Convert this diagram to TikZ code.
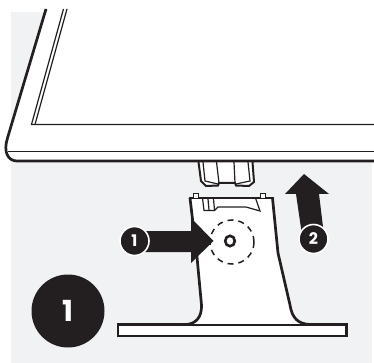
\documentclass[tikz,border=0pt]{standalone}
\usepackage{fontspec}
\newfontfamily\badgefont{Poppins}
\definecolor{inkblack}{HTML}{231F20}
\definecolor{panelgrey}{HTML}{F1F2F4}
\tikzset{
	outline/.style={draw=inkblack,line width=2.7pt,line join=miter},
	thin outline/.style={draw=inkblack,line width=1.2pt},
	badge/.style={circle,fill=inkblack,draw=white,line width=1.6pt,text=white,minimum size=29pt,inner sep=0pt,font=\badgefont\bfseries\fontsize{16}{16}\selectfont},
	push arrow/.style={fill=inkblack}
}
\begin{document}
\begin{tikzpicture}[x=1pt,y=-1pt]
	\useasboundingbox (0,0) rectangle (374,363);
	\fill[panelgrey] (11,12) rectangle (372,363);

	% monitor
	\fill[white] (46,9) -- (7.5,138) .. controls (3,152) and (8,161) .. (17,161) -- (374,161) -- (374,0) -- (46,0) -- cycle;
	\draw[outline] (46,9) -- (7.5,138) .. controls (3,152) and (8,161) .. (17,161) -- (374,161);
	\draw[thin outline] (63.5,9) -- (31.5,124.5) -- (374,124.5);
	\draw[thin outline] (67,9) -- (35,124.5);
	\draw[draw=inkblack,line width=1pt] (8,152) -- (374,152);

	% hinge under the monitor
	\fill[white] (198.5,163) -- (201,181) -- (206,186) -- (219,184) -- (219,183) -- (235,183) -- (240,187) -- (251,186) -- (254,182) -- (252.5,163) -- cycle;
	\draw[outline,line width=2pt] (198.5,162) -- (201,181) -- (206,186) -- (218,185.5) -- (219,183) -- (235,183) -- (236,185.5) -- (249,186) -- (254,182) -- (252.5,162);
	\draw[thin outline] (203,162) -- (205,181) -- (218,184);
	\draw[thin outline] (248,162) -- (250,181) -- (236,184);
	\draw[thin outline] (216.5,162) -- (219,183);
	\draw[thin outline] (234,162) -- (235,183);

	% base
	\draw[outline,fill=white] (118,324.5) rectangle (346.5,336);

	% stand
	\fill[white] (190,198) -- (197,257) -- (201.5,305) .. controls (202,318) and (195,324) .. (186,324.5) -- (310,324.5) .. controls (298,324) and (292,318) .. (290,305) -- (278,253) -- (272.5,198) -- cycle;
	\draw[draw=inkblack,line width=.8pt] (186,324.5) -- (310,324.5);
	\draw[outline] (190,198) -- (197,257) -- (201.5,305) .. controls (202,318) and (195,324) .. (186,324.5);
	\draw[outline] (272.5,198) -- (278,253) -- (290,305) .. controls (292,318) and (298,324) .. (310,324.5);
	\draw[outline] (189,198) -- (273.5,198);
	\foreach \x in {196,263}
	\draw[outline,fill=white,line width=1.6pt] (\x-2.5,198) -- (\x-2.5,193.5) -- (\x+2.5,193.5) -- (\x+2.5,198);
	\draw[thin outline] (202.5,198) -- (204,210.5) -- (214.5,210.5) -- (218,207) -- (246,207) -- (260,211) -- (255.5,198);
	\draw[thin outline] (208,199) -- (209,210);
	\draw[thin outline] (213.5,199) -- (214.5,210);
	\draw[draw=inkblack,line width=1.5pt,dash pattern=on 6pt off 5pt] (232,242) circle (22);
	\draw[draw=inkblack,line width=2.6pt] (230,241) ellipse (4.8 and 5.2);

	% arrows
	\fill[push arrow] (135,231) -- (191,231) -- (191,218) -- (213.5,241) -- (191,263) -- (191,252) -- (135,252) -- cycle;
	\fill[push arrow] (304,174) -- (329,194) -- (319,194) -- (324,235) -- (302,235) -- (296,194) -- (285,194) -- cycle;

	% step numbers
	\node[badge] (pushbadge) at (134.5,241) {1};
	\node[badge] (liftbadge) at (313.5,239) {2};
	\node[circle,fill=inkblack,minimum size=73pt,inner sep=0pt,text=white,font=\badgefont\bfseries\fontsize{29}{29}\selectfont] (stepbadge) at (68,311) {1};
\end{tikzpicture}
\end{document}
